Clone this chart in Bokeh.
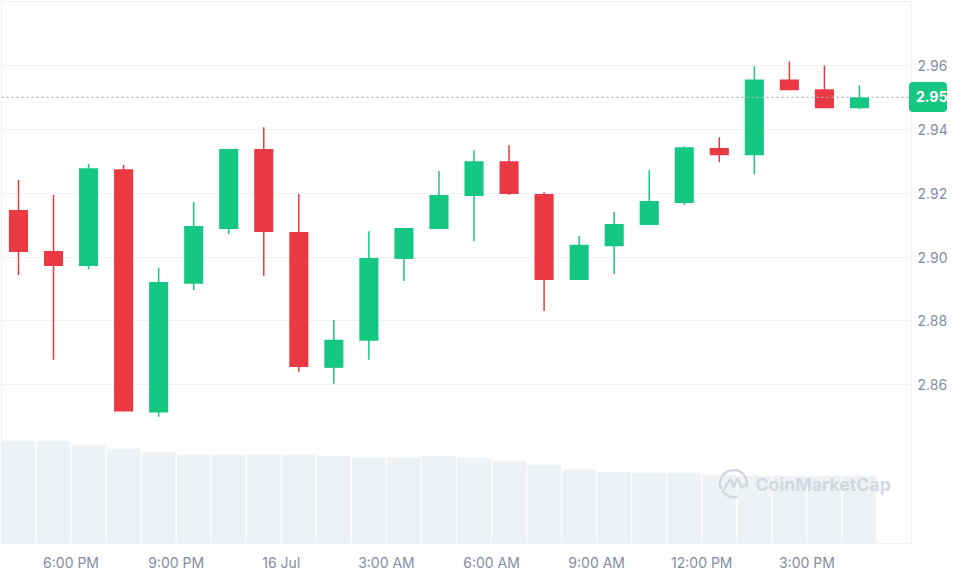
from bokeh.embed import file_html
from bokeh.resources import INLINE
from bokeh.plotting import figure
from bokeh.models import ColumnDataSource, Range1d, FixedTicker, Span, Label, Div

# Data (hourly candles)
opens  = [2.9147, 2.9019, 2.8972, 2.9275, 2.8513, 2.8916, 2.9088, 2.9338, 2.9078, 2.8653, 2.8738, 2.8994, 2.9088,
          2.9191, 2.9300, 2.9197, 2.8928, 2.9034, 2.9100, 2.9169, 2.9341, 2.9319, 2.9556, 2.9525, 2.9466]
closes = [2.9016, 2.8972, 2.9278, 2.8516, 2.8922, 2.9097, 2.9338, 2.9078, 2.8656, 2.8741, 2.8997, 2.9091, 2.9194,
          2.9300, 2.9197, 2.8928, 2.9038, 2.9103, 2.9175, 2.9344, 2.9319, 2.9556, 2.9522, 2.9466, 2.9500]
highs  = [2.9241, 2.9194, 2.9291, 2.9288, 2.8966, 2.9172, 2.9338, 2.9406, 2.9197, 2.8803, 2.9081, 2.9091, 2.9269,
          2.9334, 2.9350, 2.9203, 2.9066, 2.9141, 2.9272, 2.9347, 2.9375, 2.9597, 2.9612, 2.9600, 2.9538]
lows   = [2.8944, 2.8678, 2.8962, 2.8516, 2.8500, 2.8897, 2.9072, 2.8941, 2.8641, 2.8603, 2.8678, 2.8925, 2.9088,
          2.9050, 2.9194, 2.8831, 2.8928, 2.8947, 2.9100, 2.9163, 2.9297, 2.9259, 2.9522, 2.9466, 2.9463]
volumes = [103, 103, 99, 95, 92, 89, 89, 89, 89, 88, 86.5, 86.5, 88, 86, 83, 79, 74, 72, 71, 71, 69, 68, 68, 68, 68]
price_ticks = [2.86, 2.88, 2.90, 2.92, 2.94, 2.96]
time_ticks = [1.5, 4.5, 7.5, 10.5, 13.5, 16.5, 19.5, 22.5]
time_labels = ["6:00 PM", "9:00 PM", "16 Jul", "3:00 AM", "6:00 AM", "9:00 AM", "12:00 PM", "3:00 PM"]
last_price = 2.95

GREEN, RED = "#16c784", "#ea3943"
LINE = "#eff2f5"
TEXT = "#858ca2"
FONT = "Inter"

idx = list(range(len(opens)))
colors = [GREEN if c >= o else RED for o, c in zip(opens, closes)]
src = ColumnDataSource(dict(x=idx, o=opens, c=closes, h=highs, l=lows, v=volumes, color=colors,
                            zero=[0] * len(idx)))

p = figure(width=961, height=573, output_backend="svg", toolbar_location=None,
           x_range=Range1d(-0.485, 25.485), y_range=Range1d(2.8103, 2.98),
           y_axis_location="right", min_border_left=1, min_border_top=1,
           min_border_right=50, min_border_bottom=29)
p.background_fill_color = "#ffffff"
p.border_fill_color = "#ffffff"
p.outline_line_color = LINE
p.outline_line_width = 1

p.extra_y_ranges = {"vol": Range1d(0, 543), "px": Range1d(544, 1)}
p.extra_x_ranges = {"px": Range1d(1, 911)}

p.vbar(x="x", width=0.965, bottom="zero", top="v", source=src, y_range_name="vol",
       fill_color=LINE, line_color=None, level="underlay")

# Watermark
wm = "#d3d7e0"
p.arc(x=[733], y=[484], radius=[13.5], radius_units="screen", start_angle=[-0.25], end_angle=[3.55],
      direction="anticlock", line_color=wm, line_width=2.5, x_range_name="px", y_range_name="px")
p.arc(x=[733], y=[484], radius=[13.5], radius_units="screen", start_angle=[3.75], end_angle=[5.0],
      direction="anticlock", line_color=wm, line_width=2.5, x_range_name="px", y_range_name="px")
p.line(x=[722, 730, 733, 737, 741, 747], y=[492, 479, 488, 478, 488, 483], line_color=wm, line_width=2.5,
       x_range_name="px", y_range_name="px")
p.add_layout(Label(x=755, y=485, x_range_name="px", y_range_name="px", text="CoinMarketCap",
                   text_font=FONT, text_font_size="17.7px", text_font_style="bold", text_color=wm,
                   text_baseline="middle"))

p.segment(x0="x", x1="x", y0="l", y1="h", source=src, line_color="color", line_width=1.5)
p.vbar(x="x", width=0.545, bottom="o", top="c", source=src, fill_color="color", line_color=None)

p.add_layout(Span(location=last_price, dimension="width", line_color="#a9b1c2", line_width=1.2,
                  line_dash=[2, 3]))

p.xgrid.visible = False
p.ygrid.grid_line_color = LINE
p.ygrid.grid_line_width = 1
p.ygrid.ticker = FixedTicker(ticks=price_ticks)

ax = p.yaxis[0]
ax.ticker = FixedTicker(ticks=price_ticks)
ax.formatter.use_scientific = False
ax.major_label_overrides = {t: f"{t:.2f}" for t in price_ticks}
ax.axis_line_color = None
ax.major_tick_line_color = None
ax.minor_tick_line_color = None
ax.major_tick_out = 0
ax.major_tick_in = 0
ax.minor_tick_out = 0
ax.minor_tick_in = 0
ax.major_label_text_font = FONT
ax.major_label_text_font_size = "14px"
ax.major_label_text_color = TEXT
ax.major_label_standoff = 6

bx = p.xaxis[0]
bx.ticker = FixedTicker(ticks=time_ticks)
bx.major_label_overrides = dict(zip(time_ticks, time_labels))
bx.axis_line_color = None
bx.major_tick_line_color = None
bx.minor_tick_line_color = None
bx.major_tick_out = 0
bx.major_tick_in = 0
bx.minor_tick_out = 0
bx.minor_tick_in = 0
bx.major_label_text_font = FONT
bx.major_label_text_font_size = "14px"
bx.major_label_text_color = TEXT
bx.major_label_standoff = 10

# Last-price tag (outside the plot frame, so a DOM element instead of a clipped annotation)
tag = Div(text=f"{last_price:.2f}", width=37, height=30,
          styles={"position": "absolute", "left": "909px", "top": "82px", "z-index": "10",
                  "box-sizing": "content-box", "padding-left": "7px",
                  "background-color": GREEN, "border-radius": "4px", "color": "#ffffff",
                  "font-family": FONT, "font-size": "14px", "font-weight": "700",
                  "line-height": "30px"})
p.elements = [tag]

open("out.html", "w").write(file_html(p, INLINE))
